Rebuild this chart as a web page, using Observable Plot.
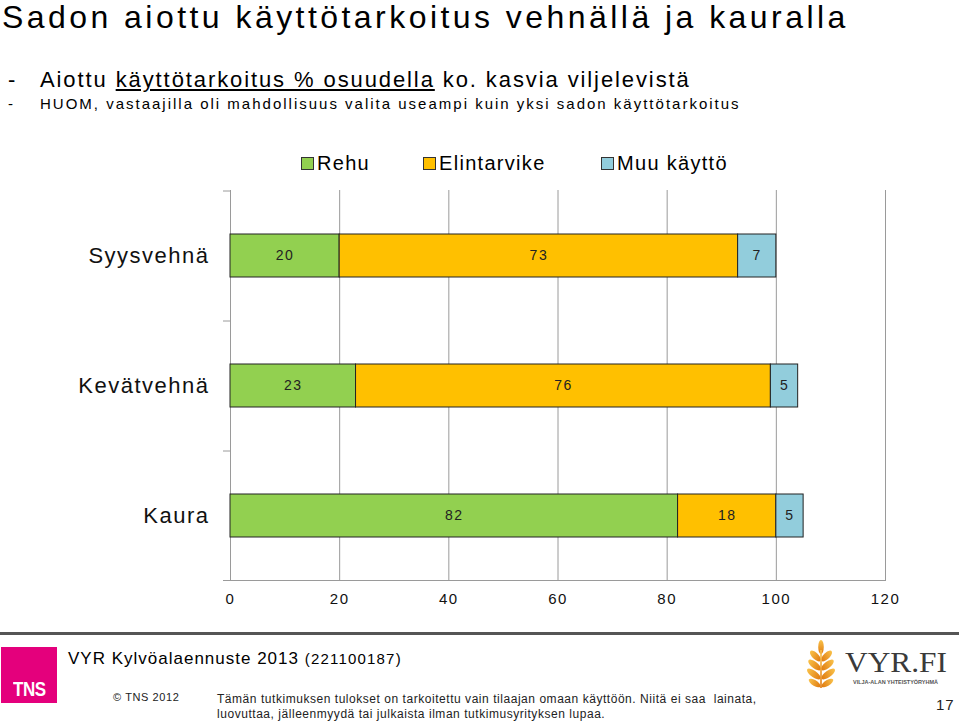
<!DOCTYPE html>
<html><head><meta charset="utf-8">
<script src="https://cdn.jsdelivr.net/npm/d3@7"></script>
<script src="https://cdn.jsdelivr.net/npm/@observablehq/plot@0.6"></script>
<style>
body{margin:0;width:959px;height:722px;position:relative;overflow:hidden;background:#fff;font-family:"Liberation Sans",Arial,sans-serif;color:#000}
.abs{position:absolute;white-space:nowrap;line-height:1}
#title{left:2px;top:1px;font-size:32px;letter-spacing:3.45px}
#sub1{left:8px;top:69px;font-size:22px;letter-spacing:1.9px}
#sub1 .t{position:absolute;left:32px;top:0}
#sub2{left:8px;top:96px;font-size:15px;letter-spacing:2.0px}
#sub2 .t{position:absolute;left:32px;top:0}
#legend{left:0;top:153px;width:959px;height:22px;font-size:20px;letter-spacing:1.3px}
.lg{position:absolute;top:0}
.sw{position:absolute;width:11px;height:11px;border:1px solid #333;top:4px}
#chart{position:absolute;left:0;top:180px}
#chart svg text{letter-spacing:1.5px}
#chart svg g[aria-label="y-axis tick label"] text{letter-spacing:1.9px}
#hr{position:absolute;left:0;top:632px;width:959px;height:3px;background:#555}
#tns{position:absolute;left:1px;top:647px;width:56px;height:56px;background:#e4007c}
#tns span{position:absolute;left:12px;bottom:2px;color:#fff;font-weight:bold;font-size:20px;letter-spacing:-0.5px;transform:scaleX(0.85);transform-origin:left}
#src{left:68px;top:650px;font-size:17px;letter-spacing:1px}
#src small{font-size:15px;letter-spacing:1.2px}
#copy{left:113px;top:692px;font-size:11px;letter-spacing:0.6px;color:#222}
#disc{left:217px;top:692px;font-size:12px;letter-spacing:0.54px;line-height:15px;color:#222}
#pg{left:936px;top:697px;font-size:15px;letter-spacing:1px;color:#222}
#logo{position:absolute;left:800px;top:636px}
</style></head>
<body>
<div id="title" class="abs">Sadon aiottu käyttötarkoitus vehnällä ja kauralla</div>
<div id="sub1" class="abs">-<span class="t">Aiottu <u>käyttötarkoitus % osuudella</u> ko. kasvia viljelevistä</span></div>
<div id="sub2" class="abs">-<span class="t">HUOM, vastaajilla oli mahdollisuus valita useampi kuin yksi sadon käyttötarkoitus</span></div>
<div id="legend" class="abs"></div>
<div id="chart"></div>
<div id="hr"></div>
<div id="tns"><span>TNS</span></div>
<div id="src" class="abs">VYR Kylvöalaennuste 2013 <small>(221100187)</small></div>
<div id="copy" class="abs">© TNS 2012</div>
<div id="disc" class="abs">Tämän tutkimuksen tulokset on tarkoitettu vain tilaajan omaan käyttöön. Niitä ei saa&nbsp; lainata,<br>luovuttaa, jälleenmyydä tai julkaista ilman tutkimusyrityksen lupaa.</div>
<svg id="logo" width="159" height="58" viewBox="0 0 159 58">
<defs><linearGradient id="wg" x1="0" y1="0" x2="0" y2="1"><stop offset="0" stop-color="#f9c24a"/><stop offset="1" stop-color="#e07a10"/></linearGradient></defs>
<g fill="url(#wg)" transform="translate(5 4) scale(0.8 1)">
<ellipse cx="20" cy="7" rx="3.5" ry="7"/>
<ellipse cx="13" cy="16" rx="3.5" ry="8" transform="rotate(-55 13 16)"/>
<ellipse cx="27" cy="16" rx="3.5" ry="8" transform="rotate(55 27 16)"/>
<ellipse cx="12" cy="25" rx="3.5" ry="9" transform="rotate(-60 12 25)"/>
<ellipse cx="28" cy="25" rx="3.5" ry="9" transform="rotate(60 28 25)"/>
<ellipse cx="11" cy="34" rx="3.5" ry="9.5" transform="rotate(-62 11 34)"/>
<ellipse cx="29" cy="34" rx="3.5" ry="9.5" transform="rotate(62 29 34)"/>
<ellipse cx="12" cy="43" rx="3" ry="8" transform="rotate(-65 12 43)"/>
<ellipse cx="28" cy="43" rx="3" ry="8" transform="rotate(65 28 43)"/>
<rect x="19" y="10" width="2" height="38"/>
</g>
<text x="45" y="36" font-family="'Liberation Serif','DejaVu Serif',serif" font-size="30" fill="#3a3a3a" textLength="102" lengthAdjust="spacingAndGlyphs">VYR.FI</text>
<text x="53" y="48" font-family="'Liberation Sans',Arial,sans-serif" font-size="5" font-weight="bold" fill="#555" textLength="85" lengthAdjust="spacingAndGlyphs">VILJA-ALAN YHTEISTYÖRYHMÄ</text>
</svg>
<div id="pg" class="abs">17</div>
<script>
// Data
const crops = ["Syysvehnä", "Kevätvehnä", "Kaura"];
const uses = ["Rehu", "Elintarvike", "Muu käyttö"];
const rehu = [20, 23, 82];
const elintarvike = [73, 76, 18];
const muu = [7, 5, 5];
const colors = ["#92d050", "#ffc000", "#92cddc"];
const xTicks = [0, 20, 40, 60, 80, 100, 120];

const series = [rehu, elintarvike, muu];
const data = [];
crops.forEach((c, i) => uses.forEach((u, j) => data.push({crop: c, use: u, value: series[j][i]})));

// Legend
const legendX = [301, 423, 601];
const legend = document.getElementById("legend");
uses.forEach((u, j) => {
  const sw = document.createElement("div");
  sw.className = "sw"; sw.style.left = legendX[j] + "px"; sw.style.background = colors[j];
  legend.appendChild(sw);
  const t = document.createElement("div");
  t.className = "lg"; t.style.left = (legendX[j] + 16) + "px"; t.textContent = u;
  legend.appendChild(t);
});

const W = 959, H = 440, mT = 10, mB = 40, mL = 230, mR = 74;
const pInner = 0.67, pOuter = 0.335;
const step = (H - mT - mB) / (crops.length - pInner + 2 * pOuter);

const chart = Plot.plot({
  width: W, height: H,
  marginTop: mT, marginBottom: mB, marginLeft: mL, marginRight: mR,
  style: {fontFamily: "'Liberation Sans', Arial, sans-serif", color: "#000", background: "transparent"},
  x: {domain: [0, 120]},
  y: {domain: crops, paddingInner: pInner, paddingOuter: pOuter},
  color: {domain: uses, range: colors},
  marks: [
    Plot.ruleX(xTicks, {stroke: "#9a9a9a", strokeWidth: 1}),
    Plot.frame({anchor: "bottom", stroke: "#9a9a9a", insetLeft: -7}),
    Plot.ruleY(crops, {y: d => d, x1: 0, x2: 0, insetLeft: -7, dy: -step / 2, stroke: "#9a9a9a"}),
    Plot.barX(data, Plot.stackX({y: "crop", x: "value", z: "use", fill: "use", stroke: "#222", strokeWidth: 1, order: uses})),
    Plot.textX(data, Plot.stackX({y: "crop", x: "value", z: "use", text: "value", order: uses, fontSize: 14, fill: "#222"})),
    Plot.axisX({ticks: xTicks, tickSize: 0, tickPadding: 13, fontSize: 15, label: null, fill: "#111"}),
    Plot.axisY({tickSize: 0, tickPadding: 21, fontSize: 22, label: null, fill: "#111", ariaLabel: "y-axis tick label"})
  ]
});
document.getElementById("chart").appendChild(chart);
</script>
</body></html>
